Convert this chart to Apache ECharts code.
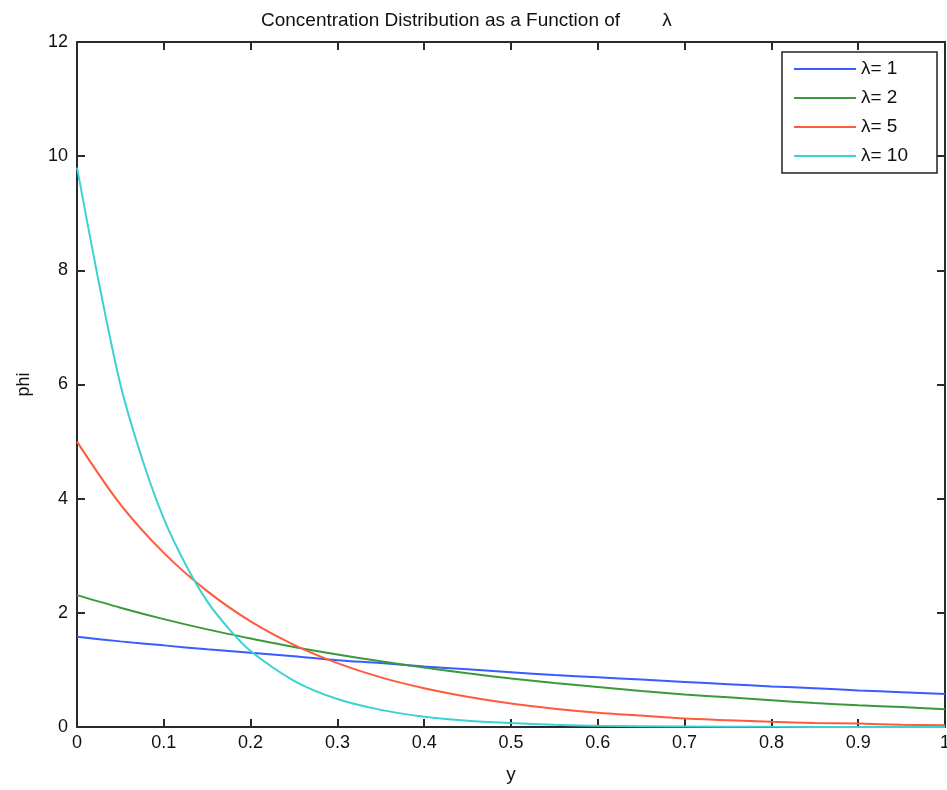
<!DOCTYPE html>
<html>
<head>
<meta charset="utf-8">
<script src="https://cdn.jsdelivr.net/npm/echarts@6/dist/echarts.min.js"></script>
<style>
  html, body { margin: 0; padding: 0; background: #fff; }
  #chart-wrapper { width: 947px; height: 790px; }
</style>
</head>
<body>
<div id="chart-wrapper"></div>
<script>
// positions along y (x axis of the plot)
const yCoarse = [0, 0.05, 0.1, 0.15, 0.2, 0.25, 0.3, 0.35, 0.4, 0.45, 0.5,
  0.55, 0.6, 0.65, 0.7, 0.75, 0.8, 0.85, 0.9, 0.95, 1]
const yFine = [0, 0.025, 0.05, 0.075, 0.1, 0.125, 0.15, 0.175, 0.2, 0.25, 0.3,
  0.35, 0.4, 0.45, 0.5, 0.55, 0.6, 0.7, 0.8, 0.9, 1]

// phi values
const phiLambda1 = [1.58, 1.50, 1.43, 1.36, 1.30, 1.24, 1.17, 1.12, 1.06, 1.01, 0.96,
  0.91, 0.87, 0.83, 0.79, 0.75, 0.71, 0.68, 0.64, 0.61, 0.58]
const phiLambda2 = [2.31, 2.09, 1.89, 1.71, 1.55, 1.40, 1.27, 1.15, 1.04, 0.94, 0.85,
  0.77, 0.70, 0.63, 0.57, 0.52, 0.47, 0.42, 0.38, 0.35, 0.31]
const phiLambda5 = [5.0, 3.9, 3.05, 2.38, 1.85, 1.44, 1.12, 0.87, 0.68, 0.53, 0.41,
  0.32, 0.25, 0.20, 0.15, 0.12, 0.09, 0.07, 0.06, 0.04, 0.03]
const phiLambda10 = [9.8, 7.8, 6.0, 4.7, 3.65, 2.85, 2.2, 1.72, 1.33, 0.81, 0.49,
  0.30, 0.18, 0.11, 0.07, 0.04, 0.02, 0.01, 0.003, 0.001, 0]

const seriesNames = ['λ= 1', 'λ= 2', 'λ= 5', 'λ= 10']
const seriesColors = ['#3a5bff', '#3a9a3a', '#ff5a3c', '#3cd2d2']

const xTicks = { min: 0, max: 1, interval: 0.1 }
const yTicks = { min: 0, max: 12, interval: 2 }

const pair = (xs, vs) => xs.map((x, i) => [x, vs[i]])

const font = '"Liberation Sans", Arial, Helvetica, sans-serif'
const axisColor = '#2a2a2a'
const textColor = '#111'

const chartDom = document.getElementById('chart-wrapper')
const chart = echarts.init(chartDom, null, { renderer: 'canvas' })

const lineSeries = (name, data, color) => ({
  name,
  type: 'line',
  data,
  xAxisIndex: 0,
  yAxisIndex: 0,
  smooth: 0.3,
  symbol: 'none',
  showSymbol: false,
  lineStyle: { color, width: 2 },
  itemStyle: { color }
})

const boxAxis = extra => Object.assign({
  type: 'value',
  axisLine: { show: true, onZero: false, lineStyle: { color: axisColor, width: 2 } },
  axisTick: { show: true, inside: true, length: 8, lineStyle: { color: axisColor, width: 2 } },
  splitLine: { show: false }
}, extra)

const option = {
  backgroundColor: '#fff',
  animation: false,
  title: {
    text: 'Concentration Distribution as a Function of        λ',
    left: 256,
    top: 6,
    textStyle: { fontFamily: font, fontSize: 19, fontWeight: 'normal', color: textColor }
  },
  legend: {
    data: seriesNames,
    orient: 'vertical',
    right: 10,
    top: 52,
    icon: 'rect',
    itemWidth: 62,
    itemHeight: 2,
    itemGap: 9,
    padding: [7, 29, 7, 12],
    borderColor: '#222',
    borderWidth: 1.5,
    backgroundColor: '#fff',
    textStyle: { fontFamily: font, fontSize: 19, lineHeight: 20, color: textColor }
  },
  grid: { left: 77, right: 2, top: 42, bottom: 63, outerBoundsMode: 'none' },
  xAxis: [
    boxAxis({
      position: 'bottom',
      ...xTicks,
      name: 'y',
      nameLocation: 'middle',
      nameGap: 38,
      nameTextStyle: { fontFamily: font, fontSize: 19, color: textColor },
      axisLabel: { fontFamily: font, fontSize: 18, color: textColor, margin: 7 }
    }),
    boxAxis({ position: 'top', ...xTicks, axisLabel: { show: false } })
  ],
  yAxis: [
    boxAxis({
      position: 'left',
      ...yTicks,
      name: 'phi',
      nameLocation: 'middle',
      nameGap: 44,
      nameTextStyle: { fontFamily: font, fontSize: 18, color: textColor },
      axisLabel: { fontFamily: font, fontSize: 18, color: textColor, margin: 9 }
    }),
    boxAxis({ position: 'right', ...yTicks, axisLabel: { show: false } })
  ],
  series: [
    lineSeries(seriesNames[0], pair(yCoarse, phiLambda1), seriesColors[0]),
    lineSeries(seriesNames[1], pair(yCoarse, phiLambda2), seriesColors[1]),
    lineSeries(seriesNames[2], pair(yCoarse, phiLambda5), seriesColors[2]),
    lineSeries(seriesNames[3], pair(yFine, phiLambda10), seriesColors[3])
  ]
}

chart.setOption(option)
</script>
</body>
</html>
